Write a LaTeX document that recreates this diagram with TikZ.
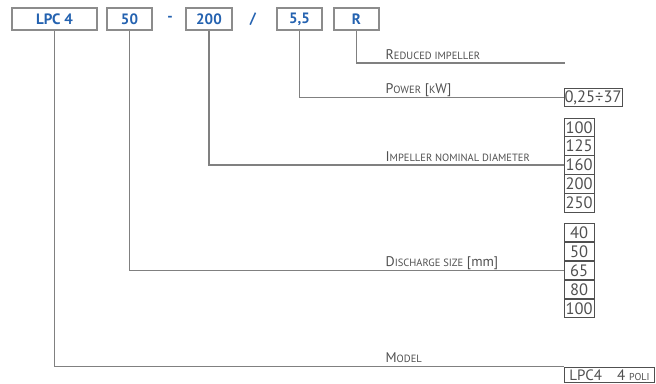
\documentclass[tikz,border=0pt]{standalone}
\usepackage{fontspec}
\setmainfont{PT Sans}
\usetikzlibrary{positioning}
\definecolor{codeblue}{HTML}{2462B0}
\definecolor{frame}{HTML}{8C8C8C}
\definecolor{ink}{HTML}{505050}
\tikzstyle{code} = [rectangle, draw=frame, line width=1.3pt, minimum height=22pt,
    inner sep=0pt, text=codeblue, font=\fontsize{15}{15}\selectfont\bfseries]
\tikzstyle{sep} = [text=codeblue, font=\fontsize{15}{15}\selectfont\bfseries]
\tikzstyle{cell} = [rectangle, draw=ink, line width=1pt, minimum width=30pt,
    minimum height=18.8pt, inner sep=0pt, text=ink, font=\fontsize{16.5}{16.5}\selectfont]
\tikzstyle{lbl} = [anchor=base west, inner sep=0pt, text=ink,
    font=\fontsize{14}{14}\selectfont]
\newcommand{\smcap}[2]{#1{\fontsize{10.5}{10.5}\selectfont #2}}

\begin{document}
\begin{tikzpicture}[x=1pt,y=-1pt,line width=1.3pt,draw=gray]
  \useasboundingbox (0,0) rectangle (656,383);

  % the code
  \node[code, minimum width=85pt] (lpc) at (54.5,19)  {LPC 4};
  \node[code, minimum width=45pt] (dn)  at (129.5,19) {50};
  \node[sep]                      (d1)  at (170,19)   {-};
  \node[code, minimum width=46pt] (dia) at (209,19)   {200};
  \node[sep]                      (d2)  at (253,19)   {/};
  \node[code, minimum width=45pt] (pw)  at (299.5,19) {5,5};
  \node[code, minimum width=45pt] (red) at (356.5,19) {R};

  % the values
  \node[cell, minimum width=58pt] (kw) at (593,97.5) {0,25÷37};
  \foreach \v [count=\i] in {100,125,160,200,250}
    \node[cell] (di\i) at (579,{118+18.8*(\i-0.5)}) {\v};
  \foreach \v [count=\i] in {40,50,65,80,100}
    \node[cell] (ds\i) at (579,{223+19*(\i-0.5)}) {\v};
  \node[cell, minimum width=90pt, minimum height=15pt, text height=11pt,
        text depth=0pt, anchor=north west, font=\fontsize{15}{15}\selectfont]
       (mod) at (564,366.5) {LPC4\quad 4 {\fontsize{10}{10}\selectfont POLI}};
  \coordinate (rend) at (565,63);

  % the labels
  \node[lbl] (lred) at (385,59)  {\smcap{R}{EDUCED IMPELLER}};
  \node[lbl] (lpw)  at (385,93)  {\smcap{P}{OWER} [{\fontsize{10.5}{10.5}\selectfont K}W]};
  \node[lbl] (ldia) at (385,161) {\smcap{I}{MPELLER NOMINAL DIAMETER}};
  \node[lbl] (ldn)  at (385,266) {\smcap{D}{ISCHARGE SIZE} [mm]};
  \node[lbl] (lmod) at (385,362) {\smcap{M}{ODEL}};

  \draw (red.south) |- (rend);
  \draw (pw.south)  |- (kw.west);
  \draw (dia.south) |- (di3.west);
  \draw (dn.south)  |- (ds3.west);
  \draw (lpc.south) |- (mod.north west);
\end{tikzpicture}
\end{document}
